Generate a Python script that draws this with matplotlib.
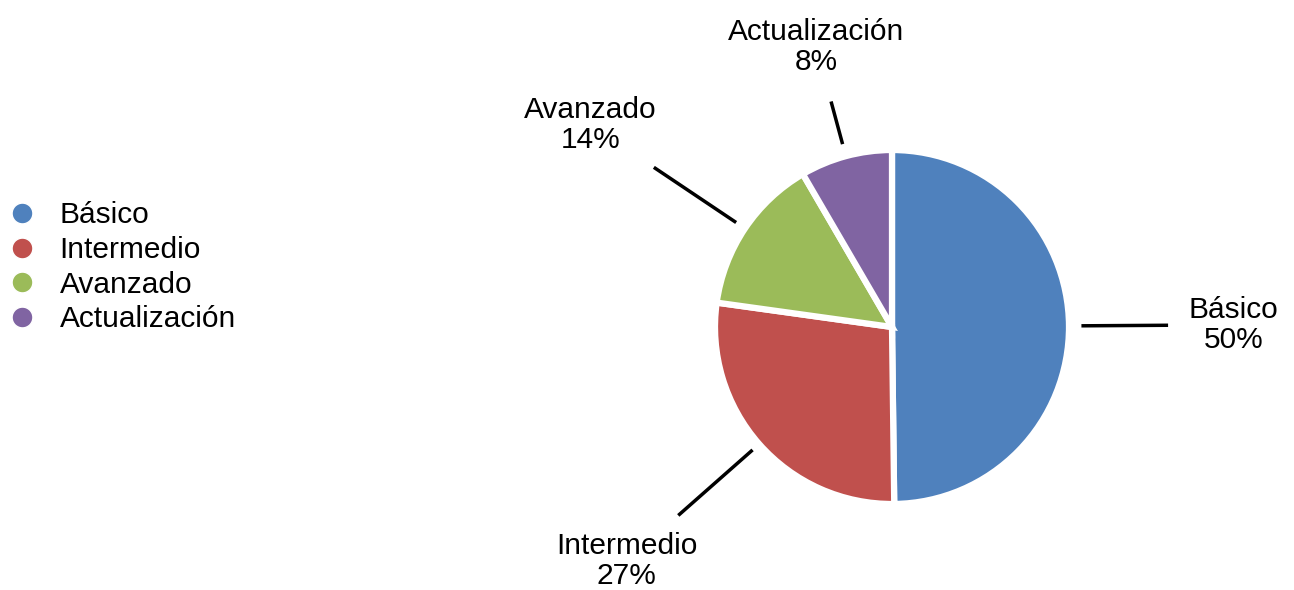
import matplotlib.pyplot as plt
from matplotlib.lines import Line2D
import numpy as np

plt.rcParams['font.family'] = ['Liberation Sans', 'DejaVu Sans']

categories = ["Básico", "Intermedio", "Avanzado", "Actualización"]
values = [49.8, 27.4, 14.4, 8.4]
colors = ["#4F81BD", "#C0504D", "#9BBB59", "#8064A2"]

fig = plt.figure(figsize=(12.94, 5.90), dpi=100)
ax = fig.add_axes([0, 0, 1, 1])

cx, cy, R = 892, 263, 177
wedges, _ = ax.pie(values, colors=colors, startangle=90, counterclock=False,
                   center=(cx, cy), radius=R, frame=True,
                   wedgeprops=dict(edgecolor='white', linewidth=4.5))
ax.set_xlim(0, 1294)
ax.set_ylim(0, 590)
ax.set_aspect('equal')
ax.axis('off')

# leader line start / end and text radius (fractions of R)
line_in = [1.08, 1.06, 1.07, 1.08]
line_out = [1.55, 1.60, 1.61, 1.31]
text_r = [1.93, 2.0, 2.05, 1.64]

for w, name, v, li, lo, tr in zip(wedges, categories, values, line_in, line_out, text_r):
    ang = np.deg2rad((w.theta1 + w.theta2) / 2)
    ca, sa = np.cos(ang), np.sin(ang)
    ax.plot([cx + li * R * ca, cx + lo * R * ca], [cy + li * R * sa, cy + lo * R * sa],
            color='black', lw=2.5)
    ax.text(cx + tr * R * ca, cy + tr * R * sa, f"{name}\n{v:.0f}%", ha='center', va='center',
            fontsize=21.5, linespacing=1.1)

handles = [Line2D([], [], marker='o', ls='', markersize=15, color=c, markeredgecolor='white')
           for c in colors]
ax.legend(handles, categories, loc='center left', bbox_to_anchor=(0.0, 0.547),
          frameon=False, fontsize=21.5, handletextpad=0.75, labelspacing=0.22,
          borderaxespad=0.0, borderpad=0.25, handlelength=1.0)

fig.savefig("out.png", dpi=100)
